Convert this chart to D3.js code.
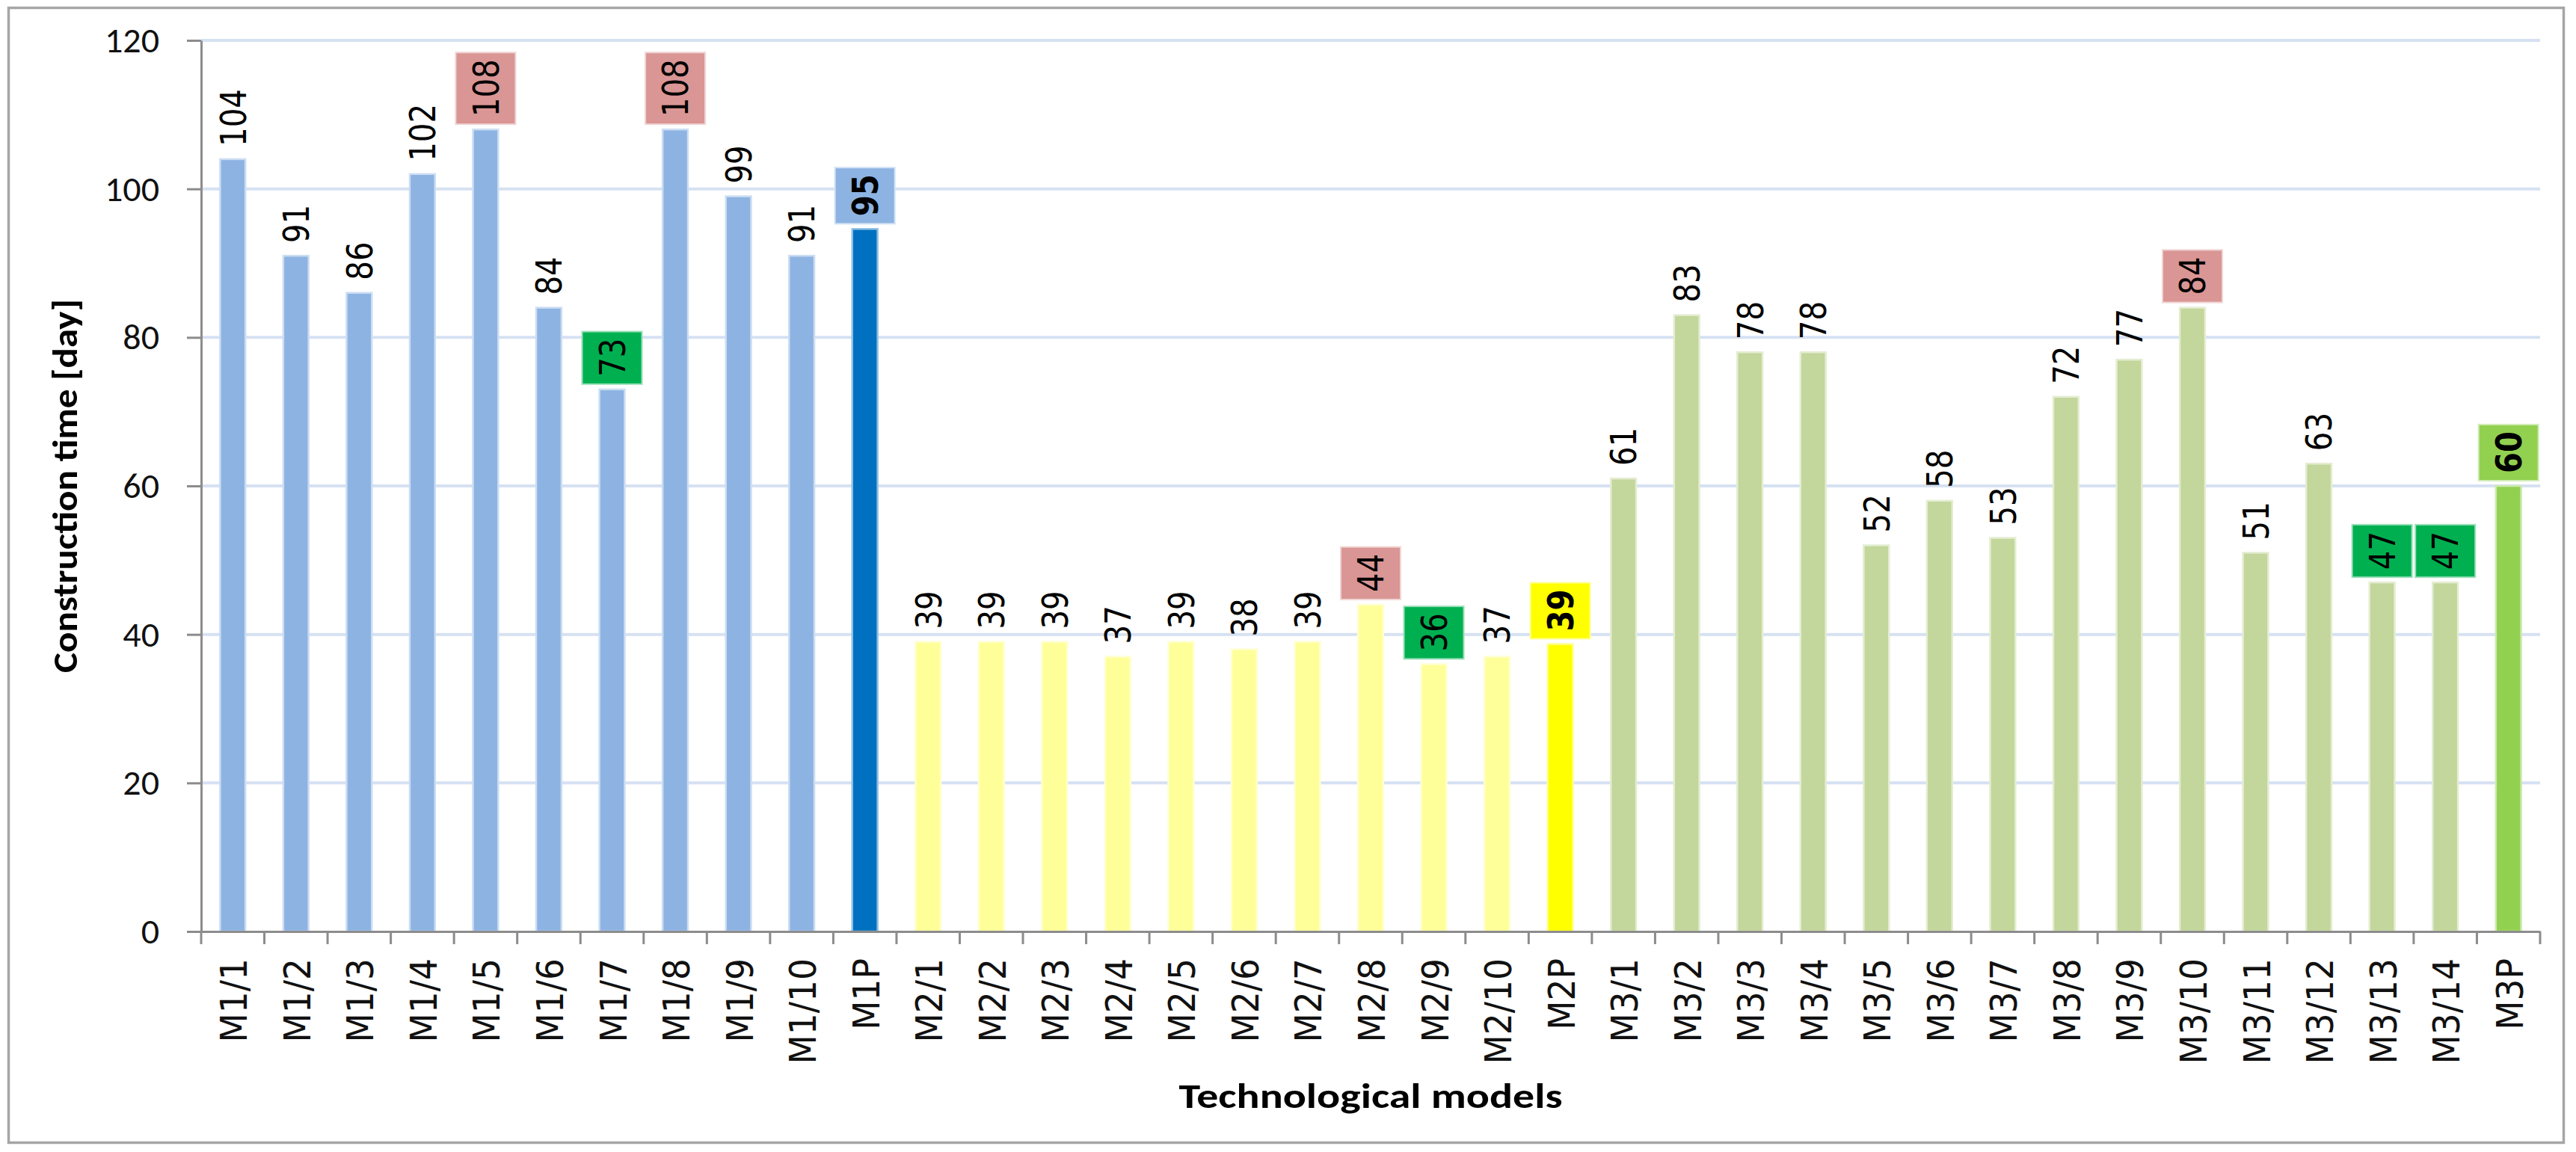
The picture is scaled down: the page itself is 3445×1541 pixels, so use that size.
<!DOCTYPE html>
<html><head><meta charset="utf-8">
<script src="https://cdn.jsdelivr.net/npm/d3@7"></script>
<style>html,body{margin:0;padding:0;background:#fff}svg{display:block}</style>
</head><body>
<script>
// ---------- data ----------
const categories = ["M1/1","M1/2","M1/3","M1/4","M1/5","M1/6","M1/7","M1/8","M1/9","M1/10","M1P",
  "M2/1","M2/2","M2/3","M2/4","M2/5","M2/6","M2/7","M2/8","M2/9","M2/10","M2P",
  "M3/1","M3/2","M3/3","M3/4","M3/5","M3/6","M3/7","M3/8","M3/9","M3/10","M3/11","M3/12","M3/13","M3/14","M3P"];
const values = [104,91,86,102,108,84,73,108,99,91,94.6,
  39,39,39,37,39,38,39,44,36,37,38.7,
  61,83,78,78,52,58,53,72,77,84,51,63,47,47,60];
const yTicks = [0,20,40,60,80,100,120];
const yTitle = "Construction time [day]";
const xTitle = "Technological models";

// ---------- styles ----------
const barColors = {M1:"#8DB3E2", M1P:"#0070C0", M2:"#FFFF99", M2P:"#FFFF00", M3:"#C3D69B", M3P:"#92D050"};
const boxColors = {max:"#D99694", min:"#00B050", M1P:"#8DB3E2", M2P:"#FFFF00", M3P:"#92D050"};

const W = 3445, H = 1541;
const M = {left:269, right:3397, top:54, bottom:1246};
const svg = d3.select("body").append("svg").attr("width", W).attr("height", H);

svg.append("rect").attr("x", 11.5).attr("y", 10.5).attr("width", 3417).attr("height", 1518)
  .attr("fill", "#fff").attr("stroke", "#A6A6A6").attr("stroke-width", 3.5);

const x = d3.scaleBand().domain(categories).range([M.left, M.right]).paddingInner(0.6).paddingOuter(0.3);
const y = d3.scaleLinear().domain([0, 120]).range([M.bottom, M.top]);

const data = categories.map((c, i) => ({c, v: values[i], g: c.slice(0, 2), p: c.endsWith("P")}));
// group extremes (excluding the P summary bar)
const ext = {};
d3.group(data.filter(d => !d.p), d => d.g).forEach((arr, g) => {
  ext[g] = {max: d3.max(arr, d => d.v), min: d3.min(arr, d => d.v)};
});
data.forEach(d => {
  d.key = d.p ? d.c : d.g;
  if (d.p) d.hl = d.c;
  else if (d.v === ext[d.g].max) d.hl = "max";
  else if (d.v === ext[d.g].min) d.hl = "min";
  else d.hl = null;
});

// ---------- grid ----------
svg.append("g").selectAll("line").data(yTicks.filter(t => t > 0)).join("line")
  .attr("x1", M.left).attr("x2", M.right)
  .attr("y1", d => y(d)).attr("y2", d => y(d))
  .attr("stroke", "#D6E1F2").attr("stroke-width", 4);

// ---------- bars ----------
const bw = x.bandwidth();
svg.append("g").selectAll("rect").data(data).join("rect")
  .attr("x", d => x(d.c)).attr("width", bw)
  .attr("y", d => y(d.v)).attr("height", d => y(0) - y(d.v))
  .attr("fill", d => barColors[d.key])
  .attr("stroke", d => d3.interpolateRgb(barColors[d.key], "#ffffff")(0.55))
  .attr("stroke-width", 2.5);

// ---------- axes ----------
const axisColor = "#8C8C8C";
const yAxis = d3.axisLeft(y).tickValues(yTicks).tickSize(19).tickSizeOuter(0).tickPadding(37);
const gy = svg.append("g").attr("transform", `translate(${M.left},0)`).call(yAxis);
gy.select(".domain").attr("stroke", axisColor).attr("stroke-width", 3);
gy.selectAll(".tick line").attr("stroke", axisColor).attr("stroke-width", 3);
gy.selectAll(".tick text").attr("font-family", "Carlito, Lato, sans-serif")
  .attr("font-size", 48).attr("fill", "#111");

const xAxis = d3.axisBottom(x).tickSize(0).tickSizeOuter(0).tickFormat("");
const gx = svg.append("g").attr("transform", `translate(0,${M.bottom})`).call(xAxis);
gx.select(".domain").attr("stroke", axisColor).attr("stroke-width", 3);
const off = x.step() * x.paddingOuter();
const bounds = categories.map(c => x(c) - off).concat([M.right]);
gx.append("g").selectAll("line").data(bounds).join("line")
  .attr("x1", d => d).attr("x2", d => d).attr("y1", 0).attr("y2", 17)
  .attr("stroke", axisColor).attr("stroke-width", 3);

// category labels
svg.append("g").selectAll("text").data(data).join("text")
  .attr("transform", d => `translate(${x(d.c) + bw / 2 + 1},${M.bottom + 36}) rotate(-90) scale(0.91,1)`)
  .attr("text-anchor", "end").attr("dy", "0.36em")
  .attr("font-family", "DejaVu Sans, sans-serif").attr("font-size", 50).attr("fill", "#111")
  .text(d => d.c);

// ---------- value labels ----------
const fmt = d3.format(".0f");
const lab = svg.append("g").selectAll("g").data(data).join("g")
  .attr("transform", d => `translate(${x(d.c) + bw / 2},${y(d.v) - 17}) rotate(-90)`);
const SX = 0.84;
lab.each(function(d) {
  const g = d3.select(this);
  const t = g.append("text")
    .attr("transform", `scale(${SX},1)`)
    .attr("text-anchor", "start").attr("dy", "0.36em")
    .attr("font-family", "DejaVu Sans, sans-serif").attr("font-size", 48)
    .attr("font-weight", d.p ? "bold" : "normal").attr("fill", "#000")
    .text(fmt(d.v));
  if (d.hl) {
    const len = t.node().getComputedTextLength() * SX;
    const col = boxColors[d.hl];
    g.insert("rect", "text")
      .attr("x", -10).attr("width", len + 19)
      .attr("y", -40).attr("height", 80)
      .attr("fill", col)
      .attr("stroke", d3.interpolateRgb(col, "#ffffff")(0.6)).attr("stroke-width", 2);
  }
});

// ---------- titles ----------
svg.append("text")
  .attr("transform", `translate(86,${(M.top + M.bottom) / 2}) rotate(-90)`)
  .attr("text-anchor", "middle").attr("dy", "0.36em")
  .attr("font-family", "Carlito, Lato, sans-serif").attr("font-weight", "bold").attr("font-size", 46)
  .attr("textLength", 500).attr("lengthAdjust", "spacingAndGlyphs")
  .attr("fill", "#000").text(yTitle);

svg.append("text")
  .attr("x", (M.left + M.right) / 2).attr("y", 1482)
  .attr("text-anchor", "middle")
  .attr("font-family", "Carlito, Lato, sans-serif").attr("font-weight", "bold").attr("font-size", 46)
  .attr("textLength", 513).attr("lengthAdjust", "spacingAndGlyphs")
  .attr("fill", "#000").text(xTitle);
</script>
</body></html>
